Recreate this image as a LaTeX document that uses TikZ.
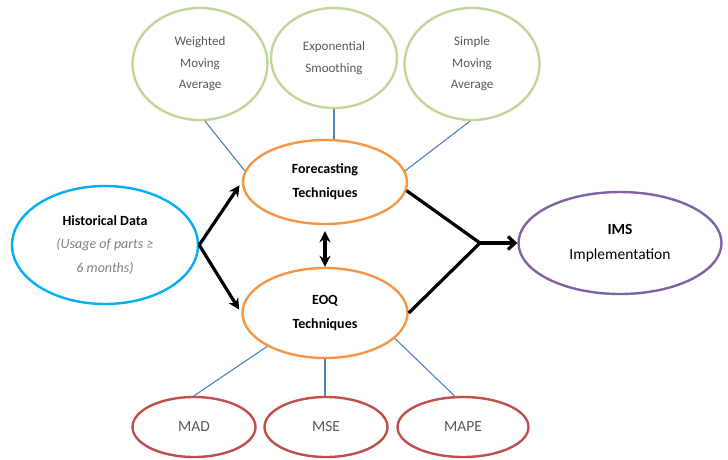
\documentclass[tikz,border=0pt]{standalone}
\usepackage{fontspec}
\setmainfont{Carlito}
\usetikzlibrary{shapes.geometric,arrows.meta}

\definecolor{histblue}{HTML}{00B0F0}
\definecolor{techorange}{HTML}{F79646}
\definecolor{methgreen}{HTML}{C3D69B}
\definecolor{errred}{HTML}{C0504D}
\definecolor{imspurple}{HTML}{8064A2}
\definecolor{linkblue}{HTML}{4F81BD}
\definecolor{labelgray}{HTML}{595959}

\begin{document}
\begin{tikzpicture}[x=1pt, y=-1pt, >={Stealth[length=11pt,width=11pt]},
  oval/.style={ellipse, draw, line width=2.4pt, fill=white, inner sep=0pt, align=center},
  method/.style={oval, draw=methgreen, text=labelgray, minimum width=135pt, minimum height=112pt,
    font=\fontsize{13}{21.5}\selectfont},
  tech/.style={oval, draw=techorange, minimum width=164pt, minimum height=84pt,
    font=\bfseries\fontsize{14}{24}\selectfont},
  errm/.style={oval, draw=errred, text=labelgray, minimum width=123pt, minimum height=60pt,
    font=\fontsize{15.5}{18}\selectfont},
  link/.style={linkblue, line width=1.1pt},
  flow/.style={black, line width=3.2pt}]
  \useasboundingbox (0,0) rectangle (728,459);

  % Input and output
  \node[oval, draw=histblue, minimum width=186pt, minimum height=118pt,
    font=\fontsize{14}{23.5}\selectfont] (hist) at (105,245)
    {\textbf{Historical Data}\\{\color{gray}\itshape (Usage of parts ≥}\\{\color{gray}\itshape 6 months)}};
  \node[oval, draw=imspurple, minimum width=203pt, minimum height=102pt,
    font=\fontsize{15.5}{25}\selectfont] (ims) at (620,243)
    {\textbf{IMS}\\Implementation};

  % Techniques
  \node[tech] (fc) at (325,182) {Forecasting\\Techniques};
  \node[tech, minimum width=165pt, minimum height=90pt] (eoq) at (325,313) {EOQ\\Techniques};

  % Forecasting methods
  \node[method] (wma) at (200,64) {Weighted\\Moving\\Average};
  \node[method, minimum width=126pt, minimum height=100pt] (exps) at (334,58) {Exponential\\Smoothing};
  \node[method] (sma) at (472,64) {Simple\\Moving\\Average};

  % Error measures
  \node[errm] (mad) at (194,427) {MAD};
  \node[errm] (mse) at (326,427) {MSE};
  \node[errm, minimum width=131pt] (mape) at (463,427) {MAPE};

  % Thin links
  \draw[link] (wma.-85) -- (fc.172);
  \draw[link] (exps.south) -- (fc.north -| exps.south);
  \draw[link] (sma.-92) -- (fc.8);
  \draw[link] (eoq.210) -- (mad.north);
  \draw[link] (eoq.south) -- (eoq.south |- mse.north);
  \draw[link] (eoq.-20) -- (mape.105);

  % Flow arrows
  \coordinate (join) at (480,243);
  \draw[flow, ->, shorten >=4pt] (hist.east) -- (fc.west);
  \draw[flow, ->, shorten >=4pt] (hist.east) -- (eoq.west);
  \draw[flow, <->, shorten <=6pt] (fc.south) -- (eoq.north);
  \draw[flow, line join=miter] (fc.-6) -- (join) -- (eoq.east);
  \draw[flow, -{Straight Barb[length=7pt,width=13pt]}] (join) -- (join -| ims.west);
\end{tikzpicture}
\end{document}
